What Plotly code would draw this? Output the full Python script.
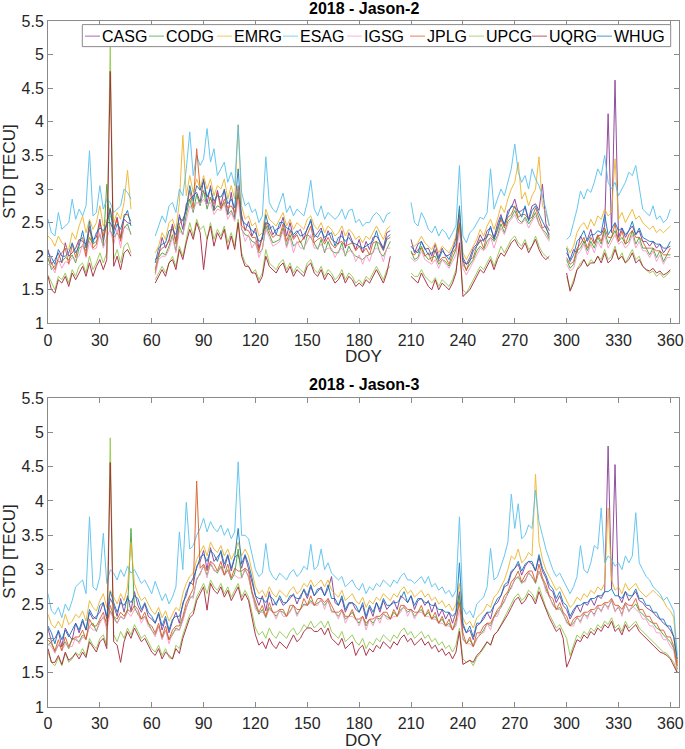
import plotly.graph_objects as go

# ---------------- data (values in 1/100 TECU) ----------------
NAMES = ["CASG", "CODG", "EMRG", "ESAG", "IGSG", "JPLG", "UPCG", "UQRG", "WHUG"]
COLORS = ["#7E2F8E", "#33A02C", "#EDB120", "#4DBEEE", "#FF8FC8",
          "#D95319", "#8CC63F", "#A2142F", "#0072BD"]

# Jason-2: data available on these DOY segments (every 2nd day)
J2_SEGMENTS = [(0, 48), (62, 198), (210, 290), (300, 360)]
DAY_STEP = 2

J2_CASG = [210,188,195,205,190,220,200,205,212,225, 222,218,240,225,228,255,222,250,250,238, 258,228,255,250,248,
           195,200,228,212,225,248,222,262,240,278, 285,290,295,280,315,278,305,268,298,275,
           300,262,295,258,292,262,238,252,230,242, 212,230,250,248,232,240,242,258,230,250,
           228,235,240,225,242,252,228,235,242,222, 238,225,222,218,238,212,235,222,210,225,
           205,222,210,228,230,222,212,235,238,
           225,205,218,222,210,212,200,218,198,212, 200,202,208,228,262,198,188,198,212,218,
           232,222,238,242,228,248,262,245,268,272, 285,265,268,272,255,275,278,268,307,248, 238,
           205,195,210,205,230,220,225,240,220,230, 232,245,412,235,462,228,242,228,238,245,
           232,238,222,222,215,222,212,218,205,212, 215]
J2_CODG = [198,180,186,192,192,198,195,202,190,212, 215,208,228,218,222,232,215,307,238,228, 235,225,242,248,232,
           175,198,205,202,215,232,208,245,232,262, 285,265,292,275,298,270,288,268,275,272,
           280,262,268,255,295,240,232,230,222,220, 205,210,245,232,220,222,225,242,215,232,
           215,220,222,210,232,228,220,210,225,205, 222,208,205,205,220,200,215,205,200,198,
           195,200,202,205,222,205,200,210,222,
           208,195,198,215,202,195,198,200,188,195, 192,185,198,210,248,188,180,188,195,208,
           215,210,222,228,222,230,248,235,252,258, 268,255,250,258,248,255,265,248,240,235, 225,
           195,182,188,208,212,222,208,222,212,228, 218,238,218,228,238,222,228,218,222,238,
           218,228,212,212,202,212,198,208,192,202, 202]
J2_EMRG = [230,225,215,230,220,215,210,235,225,245, 260,235,255,240,250,275,245,255,260,250, 265,255,280,328,270,
           205,215,235,225,250,255,240,280,380,290, 320,295,315,300,320,300,315,290,305,300,
           315,285,305,285,396,275,255,260,245,250, 230,235,270,255,250,245,255,265,245,255,
           240,250,245,240,255,260,245,240,250,235, 245,240,230,235,245,230,240,235,225,230,
           220,230,225,235,245,235,225,240,245,
           220,215,220,230,220,215,210,220,205,215, 210,205,215,230,270,205,195,205,215,225,
           240,230,245,255,240,255,275,265,285,300, 310,340,285,295,275,290,300,348,275,265, 245,
           215,205,215,235,245,250,240,255,245,260, 255,270,260,265,345,255,265,250,260,270,
           255,260,250,245,240,245,235,240,235,240, 245]
J2_ESAG = [255,235,230,265,240,245,250,285,255,270, 260,275,357,260,265,305,270,285,280,265, 270,275,300,295,285,
           230,245,260,250,275,280,265,300,290,330, 385,320,350,335,345,390,340,360,320,330,
           340,310,325,305,395,295,275,280,265,270, 250,260,348,280,270,265,280,294,265,275,
           260,270,265,260,280,313,270,260,275,255, 265,260,255,260,270,255,268,270,250,255,
           245,250,250,260,265,260,250,262,265,
           280,250,245,265,255,240,235,245,230,240, 235,225,235,245,335,230,220,235,240,250,
           258,255,265,330,270,285,300,290,310,330, 367,325,310,320,300,330,315,305,290,270, 245,
           225,230,250,270,297,285,300,295,310,330, 320,350,310,300,310,290,300,310,325,320,
           335,300,270,265,260,275,255,260,250,255, 270]
J2_IGSG = [188,185,175,195,182,192,190,198,195,200, 218,198,222,210,212,235,212,228,240,218, 240,212,245,240,236,
           172,195,200,200,210,228,205,238,232,252, 275,268,280,278,285,275,280,262,270,268,
           278,255,265,252,285,242,222,232,212,222, 198,212,240,228,215,218,222,238,212,228,
           205,222,212,212,222,232,212,212,218,208, 212,212,198,208,212,202,208,208,192,202,
           188,202,192,208,212,208,192,212,212,
           198,192,195,208,195,192,188,195,182,195, 188,182,192,202,238,182,172,182,192,202,
           212,208,215,228,212,228,242,232,248,255, 262,250,248,255,242,252,260,248,238,230, 222,
           188,178,182,202,208,218,202,218,205,222, 212,232,212,222,232,218,222,212,218,232,
           212,222,208,208,198,208,192,202,188,198, 198]
J2_JPLG = [195,190,180,198,205,212,188,218,198,222, 228,200,245,212,218,250,230,252,272,240, 255,222,262,262,252,
           180,205,212,215,222,245,218,248,255,268, 298,272,360,300,295,290,285,278,295,270,
           285,272,275,265,305,245,240,238,228,228, 208,228,250,238,228,232,230,248,222,238,
           225,232,220,228,232,245,220,225,228,218, 228,218,212,220,222,215,218,220,208,215,
           205,212,202,220,222,218,208,225,228,
           205,202,210,212,200,205,192,210,192,198, 198,188,205,212,250,195,178,195,198,215,
           225,212,232,232,225,238,255,242,258,262, 275,258,262,262,255,258,272,258,242,245, 228,
           198,188,192,212,218,228,212,228,218,232, 222,242,228,228,248,222,238,218,232,238,
           228,228,222,212,212,212,208,208,202,202, 212]
J2_UPCG = [172,160,150,170,165,175,160,180,170,185, 190,175,200,180,190,205,190,205,515,195, 210,190,215,220,205,
           165,175,185,175,190,200,185,215,200,225, 250,230,255,240,245,225,250,225,240,230,
           245,220,235,215,255,205,190,185,175,180, 165,175,210,190,185,180,190,195,180,190,
           175,185,180,175,190,195,180,175,185,170, 180,175,165,170,180,165,175,170,160,165,
           158,170,165,175,185,175,165,180,185,
           175,170,170,180,170,165,160,168,155,165, 160,155,165,180,215,150,145,155,165,175,
           185,180,190,200,185,200,215,205,215,225, 230,220,215,225,210,215,230,215,205,200, 195,
           170,150,165,180,190,195,185,195,190,200, 195,210,195,200,215,195,205,190,200,210,
           195,200,185,180,175,178,170,175,168,172, 178]
J2_UQRG = [170,150,145,165,160,170,155,175,165,175, 185,170,190,170,185,195,180,195,475,185, 200,180,205,210,200,
           160,170,180,170,190,195,180,210,195,220, 240,225,250,235,180,225,245,215,235,225,
           240,210,230,210,250,200,185,185,175,175, 160,170,200,185,180,175,185,190,175,185,
           170,180,175,170,185,190,175,170,180,165, 175,170,160,165,175,160,170,165,155,160,
           155,165,160,170,180,170,160,175,200,
           170,165,160,175,165,155,150,165,150,160, 155,150,160,175,220,140,145,150,160,170,
           180,175,185,195,180,195,205,200,210,220, 225,215,210,220,205,215,225,210,200,195, 200,
           175,148,160,180,185,195,185,190,190,200, 190,205,190,195,210,195,200,190,195,205,
           190,195,185,180,178,182,175,178,172,175, 180]
J2_WHUG = [205,198,188,210,200,200,205,220,205,215, 238,212,252,220,235,242,238,245,270,232, 248,240,258,268,245,
           190,212,218,220,238,240,232,258,252,270, 305,282,305,298,312,288,300,282,290,288,
           298,278,285,272,330,255,248,245,238,235, 222,225,262,240,245,232,250,250,242,240,
           232,238,230,232,240,255,232,228,238,228, 232,235,215,228,230,222,228,220,218,215,
           212,215,218,222,238,220,210,228,232,
           215,208,205,222,212,202,205,208,195,208, 202,195,210,218,275,192,188,192,208,215,
           222,225,228,245,225,242,258,248,262,275, 272,268,258,275,252,268,275,262,252,242, 232,
           212,192,202,222,228,238,222,232,232,238, 235,262,232,242,250,238,242,232,238,252,
           232,242,228,225,222,222,218,218,212,212, 222]

# Jason-3: DOY 0..364, every 2nd day
J3_FIRST_DAY, J3_LAST_DAY = 0, 364
J3_CASG = [215,195,200,210,188,215,205,198,222,208,
           225,212,238,228,232,238,252,228,258,248,
           232,258,238,262,240,268,248,238,250,232,
           228,222,235,212,228,208,225,238,222,252,
           262,282,278,305,312,328,300,332,312,318,
           325,302,320,298,318,322,302,320,302,282,
           262,248,262,240,268,248,252,258,248,252,
           258,265,250,262,270,258,275,262,268,275,
           262,272,290,252,248,258,238,250,252,242,
           238,248,228,245,232,252,238,255,242,248,
           255,242,262,258,252,262,242,255,258,248,
           255,238,252,232,242,228,238,222,238,268,
           218,208,212,198,218,222,228,238,228,248,
           252,262,275,278,295,302,308,292,305,312,
           308,298,318,298,288,272,268,252,262,248,
           242,228,238,248,238,252,248,258,248,262,
           258,268,480,272,453,262,252,268,255,262,
           268,255,252,245,242,238,232,228,222,218,
           212,202,165]
J3_CODG = [190,195,180,190,188,195,185,200,198,195,
           205,200,218,222,210,225,230,225,240,232,
           222,232,228,240,360,245,235,228,232,222,
           212,205,218,200,212,198,205,215,212,228,
           245,258,262,285,295,305,292,308,300,295,
           305,292,300,285,295,330,288,300,290,265,
           248,235,242,230,245,238,232,240,238,232,
           240,248,235,242,250,248,255,248,252,255,
           248,255,240,238,232,240,228,232,238,228,
           222,232,218,228,222,230,228,235,232,228,
           238,232,242,245,238,242,232,238,242,232,
           238,228,232,222,228,218,222,212,222,262,
           200,192,198,188,200,205,212,222,218,230,
           238,245,255,265,275,285,290,280,285,295,
           290,280,298,285,270,260,250,242,245,235,
           225,218,222,230,225,235,232,240,235,245,
           240,250,245,255,240,245,235,250,240,245,
           250,240,235,230,225,222,215,212,205,200,
           195,185,155]
J3_EMRG = [235,220,215,225,215,235,220,225,235,230,
           240,225,255,245,240,255,265,245,270,260,
           250,265,255,275,340,280,265,255,260,250,
           240,235,245,230,240,225,235,245,240,265,
           280,290,295,315,325,335,320,340,330,325,
           335,320,330,315,325,340,320,330,320,295,
           275,265,270,260,275,265,260,270,265,260,
           270,275,265,270,280,275,285,275,280,285,
           275,285,270,265,260,270,255,260,265,255,
           250,260,245,255,250,260,255,265,260,255,
           265,260,270,275,265,270,260,265,270,260,
           265,255,260,250,255,245,250,240,250,280,
           230,220,225,215,230,235,240,250,245,260,
           265,275,285,300,320,315,330,310,315,325,
           320,439,340,315,300,290,280,270,275,265,
           255,245,250,260,255,265,260,270,265,275,
           270,280,390,285,270,275,265,280,270,275,
           280,270,265,260,265,270,265,260,255,245,
           240,230,160]
J3_ESAG = [265,240,235,245,230,250,240,255,275,280,
           285,265,377,275,270,290,353,280,300,295,
           285,300,290,305,295,300,290,280,285,275,
           265,283,270,255,265,250,260,275,355,300,
           398,330,335,350,360,375,355,370,360,355,
           365,350,360,345,355,457,350,350,345,320,
           300,290,295,338,300,290,285,295,290,285,
           295,300,290,295,305,300,337,300,305,330,
           300,310,295,290,285,290,275,280,285,275,
           270,280,265,275,270,280,275,285,280,275,
           285,280,290,295,285,285,280,285,290,280,
           290,275,280,270,275,265,270,260,270,377,
           245,235,240,230,250,255,260,275,331,285,
           290,305,320,340,410,360,396,345,350,365,
           360,416,370,350,330,315,300,290,295,285,
           275,265,275,290,335,300,295,310,335,330,
           390,310,320,315,305,310,300,320,310,320,
           383,310,300,290,285,275,270,265,255,260,
           250,240,175]
J3_IGSG = [192,188,178,192,182,192,188,188,202,192,
           202,198,218,212,212,222,232,212,238,228,
           222,232,228,238,232,242,238,222,232,218,
           212,202,218,198,212,192,208,212,212,225,
           242,262,258,288,292,308,288,312,298,298,
           302,292,298,288,292,288,288,302,288,268,
           242,238,238,232,242,238,228,242,232,232,
           238,248,232,242,248,248,252,248,248,258,
           242,258,238,238,228,242,222,232,232,228,
           218,232,212,228,218,232,222,238,228,228,
           232,232,238,248,232,242,228,238,238,232,
           232,228,228,222,222,218,218,212,218,242,
           198,192,192,188,198,208,208,222,212,232,
           232,248,252,268,272,288,288,282,282,298,
           288,282,298,288,268,262,248,242,242,238,
           222,218,218,232,222,238,228,242,232,248,
           238,252,242,258,238,248,232,252,238,248,
           242,238,228,228,218,218,208,208,198,198,
           188,182,150]
J3_JPLG = [198,192,182,198,182,202,188,198,202,202,
           212,198,228,218,218,228,238,218,248,232,
           228,238,232,242,238,248,242,228,238,222,
           218,208,222,202,218,198,212,218,218,232,
           252,262,272,429,302,308,298,312,308,298,
           312,292,308,288,302,298,298,302,298,268,
           252,238,248,232,252,238,238,242,242,232,
           248,248,242,242,258,248,262,248,258,258,
           252,258,248,238,238,242,232,232,242,228,
           228,232,222,228,228,232,232,238,238,228,
           242,232,248,248,242,242,238,238,248,232,
           242,228,238,222,232,218,228,212,228,252,
           208,192,202,188,208,208,218,222,222,232,
           242,248,262,268,282,288,298,282,292,298,
           298,282,308,288,278,262,258,242,252,238,
           232,218,228,232,232,238,238,242,242,248,
           248,252,252,258,248,248,242,252,248,248,
           258,242,242,232,232,222,222,212,212,202,
           202,188,160]
J3_UPCG = [180,165,160,172,160,178,165,170,180,175,
           185,175,200,190,185,200,205,190,492,205,
           195,210,200,215,205,220,210,200,205,195,
           185,180,190,175,185,172,170,190,185,205,
           220,235,240,260,270,280,265,285,275,270,
           280,265,275,260,270,280,260,270,260,235,
           215,205,210,200,215,205,200,210,205,200,
           210,215,205,210,220,215,225,215,220,225,
           215,225,210,205,200,210,195,200,205,195,
           190,200,185,195,190,200,195,205,200,195,
           205,200,210,215,205,210,200,205,210,200,
           205,195,200,190,195,185,190,180,190,215,
           170,165,168,160,172,178,185,195,190,205,
           210,220,230,240,250,260,265,255,260,270,
           265,255,275,260,245,235,225,215,220,210,
           200,175,190,205,200,210,205,215,210,220,
           215,225,220,230,215,220,210,225,215,220,
           225,215,210,205,200,195,190,185,180,178,
           172,165,150]
J3_UQRG = [185,165,165,175,162,180,168,172,178,170,
           180,172,195,188,180,195,200,185,456,195,
           190,165,195,210,200,215,205,195,200,190,
           180,175,185,170,180,175,170,185,178,200,
           215,230,235,255,265,275,241,280,270,265,
           275,260,270,255,265,275,255,265,255,230,
           205,190,195,185,200,190,185,195,190,185,
           195,205,195,200,210,215,215,210,210,215,
           205,215,200,195,190,200,185,190,195,175,
           185,190,175,185,180,190,185,195,190,185,
           195,190,200,205,195,200,190,195,200,190,
           195,185,190,180,185,175,180,170,180,210,
           162,165,168,165,175,180,188,195,190,205,
           210,218,228,235,245,255,260,250,255,265,
           260,250,268,255,240,230,220,210,215,200,
           158,170,185,198,195,205,200,210,205,215,
           210,220,215,225,210,215,205,220,210,215,
           220,210,205,200,195,190,185,180,178,175,
           170,160,150]
J3_WHUG = [218,208,192,212,198,212,202,212,222,212,
           228,212,242,232,228,248,252,232,268,252,
           238,252,248,258,252,262,258,242,252,238,
           232,222,238,218,232,212,228,232,232,248,
           268,278,288,302,318,322,312,328,322,312,
           328,308,322,302,318,360,308,322,308,288,
           262,258,258,252,262,258,248,262,252,252,
           262,262,258,258,272,262,278,262,272,272,
           262,278,258,258,248,262,242,252,252,248,
           238,252,232,248,238,252,242,258,248,248,
           252,252,258,268,252,262,248,258,258,252,
           252,248,248,242,242,238,238,232,238,310,
           222,208,218,202,222,222,232,238,238,248,
           258,262,278,282,298,302,312,298,308,312,
           312,298,322,302,292,278,272,258,268,252,
           248,232,242,248,248,252,252,258,258,262,
           262,268,268,272,262,262,258,268,262,262,
           272,258,258,248,248,238,238,228,228,218,
           218,202,170]

J2 = {"CASG": J2_CASG, "CODG": J2_CODG, "EMRG": J2_EMRG, "ESAG": J2_ESAG, "IGSG": J2_IGSG,
      "JPLG": J2_JPLG, "UPCG": J2_UPCG, "UQRG": J2_UQRG, "WHUG": J2_WHUG}
J3 = {"CASG": J3_CASG, "CODG": J3_CODG, "EMRG": J3_EMRG, "ESAG": J3_ESAG, "IGSG": J3_IGSG,
      "JPLG": J3_JPLG, "UPCG": J3_UPCG, "UQRG": J3_UQRG, "WHUG": J3_WHUG}

X_TICKS = list(range(0, 361, 30))
Y_TICKS = [1, 1.5, 2, 2.5, 3, 3.5, 4, 4.5, 5, 5.5]

# ---------------- build ----------------
seg_days = [list(range(a, b + 1, DAY_STEP)) for a, b in J2_SEGMENTS]
n2 = sum(len(s) for s in seg_days)
j3_days = list(range(J3_FIRST_DAY, J3_LAST_DAY + 1, DAY_STEP))
bad = [("J2", k, len(v)) for k, v in J2.items() if len(v) != n2] + \
      [("J3", k, len(v)) for k, v in J3.items() if len(v) != len(j3_days)]
if bad:
    raise ValueError(f"length mismatch n2={n2} n3={len(j3_days)}: {bad}")


def j2_xy(vals):
    xs, ys, i = [], [], 0
    for days in seg_days:
        for d in days:
            xs.append(d)
            ys.append(vals[i] / 100)
            i += 1
        xs.append(None)
        ys.append(None)
    return xs, ys


FONT = "Liberation Sans, Arial, Helvetica, sans-serif"
W, H = 685, 749
ML, MT = 48, 21.4
MR = W - 679
MB = H - 706.7
PW, PH = W - ML - MR, H - MT - MB


def px_x(px):                # page px -> paper
    return (px - ML) / PW


def px_y(py):
    return 1 - (py - MT) / PH


fig = go.Figure()
for name, col in zip(NAMES, COLORS):
    xs, ys = j2_xy(J2[name])
    fig.add_trace(go.Scatter(x=xs, y=ys, mode="lines", name=name, showlegend=False,
                             line=dict(color=col, width=1), opacity=0.85,
                             xaxis="x", yaxis="y"))
for name, col in zip(NAMES, COLORS):
    fig.add_trace(go.Scatter(x=j3_days, y=[v / 100 for v in J3[name]], mode="lines",
                             name=name, showlegend=False,
                             line=dict(color=col, width=1), opacity=0.85,
                             xaxis="x2", yaxis="y2"))

top_bottom = px_y(323.5)
bot_top = px_y(398)

axis_common = dict(showline=True, linecolor="#8a8a8a", linewidth=1, mirror="ticks",
                   ticks="inside", ticklen=5, tickcolor="#8a8a8a", tickwidth=1,
                   showgrid=False, zeroline=False,
                   tickfont=dict(family=FONT, size=16, color="#262626"))

fig.update_layout(
    width=W, height=H, margin=dict(l=ML, r=MR, t=MT, b=MB, autoexpand=False),
    paper_bgcolor="white", plot_bgcolor="white", showlegend=False,
    xaxis=dict(domain=[0, 1], anchor="y", range=[0, 365], tickvals=X_TICKS,
               ticklabelstandoff=2, **axis_common),
    yaxis=dict(domain=[top_bottom, 1], anchor="x", range=[1, 5.5], tickvals=Y_TICKS, **axis_common),
    xaxis2=dict(domain=[0, 1], anchor="y2", range=[0, 365], tickvals=X_TICKS,
                ticklabelstandoff=2, **axis_common),
    yaxis2=dict(domain=[0, bot_top], anchor="x2", range=[1, 5.5], tickvals=Y_TICKS, **axis_common),
)

ann = []
shapes = []
for title, ty, doy_y, cy in [("2018 - Jason-2", 8.7, 357, 172.5), ("2018 - Jason-3", 384.5, 740, 552)]:
    ann.append(dict(text=f"<b>{title}</b>", x=0.5, y=px_y(ty), xref="paper", yref="paper",
                    xanchor="center", yanchor="middle", showarrow=False,
                    font=dict(family=FONT, size=16, color="black")))
    ann.append(dict(text="DOY", x=0.5, y=px_y(doy_y), xref="paper", yref="paper",
                    xanchor="center", yanchor="middle", showarrow=False,
                    font=dict(family=FONT, size=17, color="#262626")))
    ann.append(dict(text="STD [TECU]", x=px_x(9.5), y=px_y(cy), xref="paper", yref="paper",
                    xanchor="center", yanchor="middle", showarrow=False, textangle=-90,
                    font=dict(family=FONT, size=17, color="#262626")))

# legend box (custom, horizontal inside top panel)
shapes.append(dict(type="rect", xref="paper", yref="paper", x0=px_x(82.3), x1=px_x(670.7),
                   y0=px_y(47), y1=px_y(25), fillcolor="white",
                   line=dict(color="#8a8a8a", width=1), layer="above"))
LEG_X = [85, 149, 217, 283, 347, 410, 469, 532, 597]
for name, col, lx in zip(NAMES, COLORS, LEG_X):
    shapes.append(dict(type="line", xref="paper", yref="paper", x0=px_x(lx), x1=px_x(lx + 15),
                       y0=px_y(36.5), y1=px_y(36.5), line=dict(color=col, width=1),
                       opacity=0.7, layer="above"))
    ann.append(dict(text=name, x=px_x(lx + 15), y=px_y(36.5), xref="paper", yref="paper",
                    xanchor="left", yanchor="middle", showarrow=False,
                    font=dict(family=FONT, size=16, color="black")))

fig.update_layout(annotations=ann, shapes=shapes)
# the page body has a default 8px margin; remove it so the figure fills the window
fig.write_html("out.html", config={"displayModeBar": False},
               post_script="document.body.style.margin='0px';")
